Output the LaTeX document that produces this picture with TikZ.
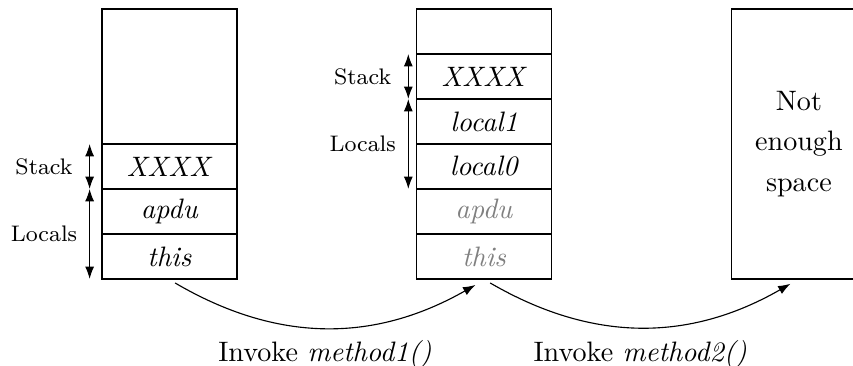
\documentclass[tikz,border=0pt]{standalone}
\usepackage{tikz}
\usepackage{xcolor}
\usetikzlibrary{arrows,arrows.meta,positioning,calc}

\begin{document}
\begin{tikzpicture}[node distance=0pt, >={Latex[length=4.4pt,width=3.2pt]},
		slot/.style={rectangle, draw, outer sep=0pt, inner sep=0pt, minimum width=1.6875cm, minimum height=0.5625cm}]
				\useasboundingbox (0,0) rectangle (10.6625,-4.5625);
				% frame of the caller
				\node[slot] (this1) at (2.119,-3.206) {\textit{this}};
				\node[slot, above=of this1] (apdu1) {\textit{apdu}};
				\node[slot, above=of apdu1] (xx1) {\textit{XXXX}};
				\node[slot, above=of xx1, minimum height=1.6875cm] (free1) {};
				\draw[<->] ([xshift=-0.155cm]xx1.north west) -- node[xshift=-0.57cm, font=\footnotesize] {Stack} ([xshift=-0.155cm]xx1.south west);
				\draw[<->] ([xshift=-0.155cm]apdu1.north west) -- node[xshift=-0.57cm, font=\footnotesize] {Locals} ([xshift=-0.155cm]this1.south west);
				
				% frame of method1
				\node[slot, right=2.246cm of this1, text=gray] (this2) {\textit{this}};
				\node[slot, above=of this2, text=gray] (apdu2) {\textit{apdu}};
				\node[slot, above=of apdu2] (loc0) {\textit{local0}};
				\node[slot, above=of loc0] (loc1) {\textit{local1}};
				\node[slot, above=of loc1] (xx2) {\textit{XXXX}};
				\node[slot, above=of xx2] (free2) {};
				\draw[<->] ([xshift=-0.105cm]xx2.north west) -- node[xshift=-0.57cm, font=\footnotesize] {Stack} ([xshift=-0.105cm]xx2.south west);
				\draw[<->] ([xshift=-0.105cm]loc1.north west) -- node[xshift=-0.57cm, font=\footnotesize] {Locals} ([xshift=-0.105cm]loc0.south west);
				
				% method2 does not fit
				\node[slot, right=2.246cm of this2.south east, anchor=south west, minimum height=3.375cm, align=center] (full) {Not\\[2.5pt]enough\\[2.5pt]space};
				
				\draw[->] ([xshift=0.07cm,yshift=-0.05cm]this1.south) to[bend right=30] node[below=1pt] {Invoke \textit{method1()}} ([xshift=-0.11cm,yshift=-0.075cm]this2.south);
				\draw[->] ([xshift=0.075cm,yshift=-0.05cm]this2.south) to[bend right=30] node[below=1pt] {Invoke \textit{method2()}} ([xshift=-0.105cm,yshift=-0.06cm]full.south);
			\end{tikzpicture}
\end{document}
